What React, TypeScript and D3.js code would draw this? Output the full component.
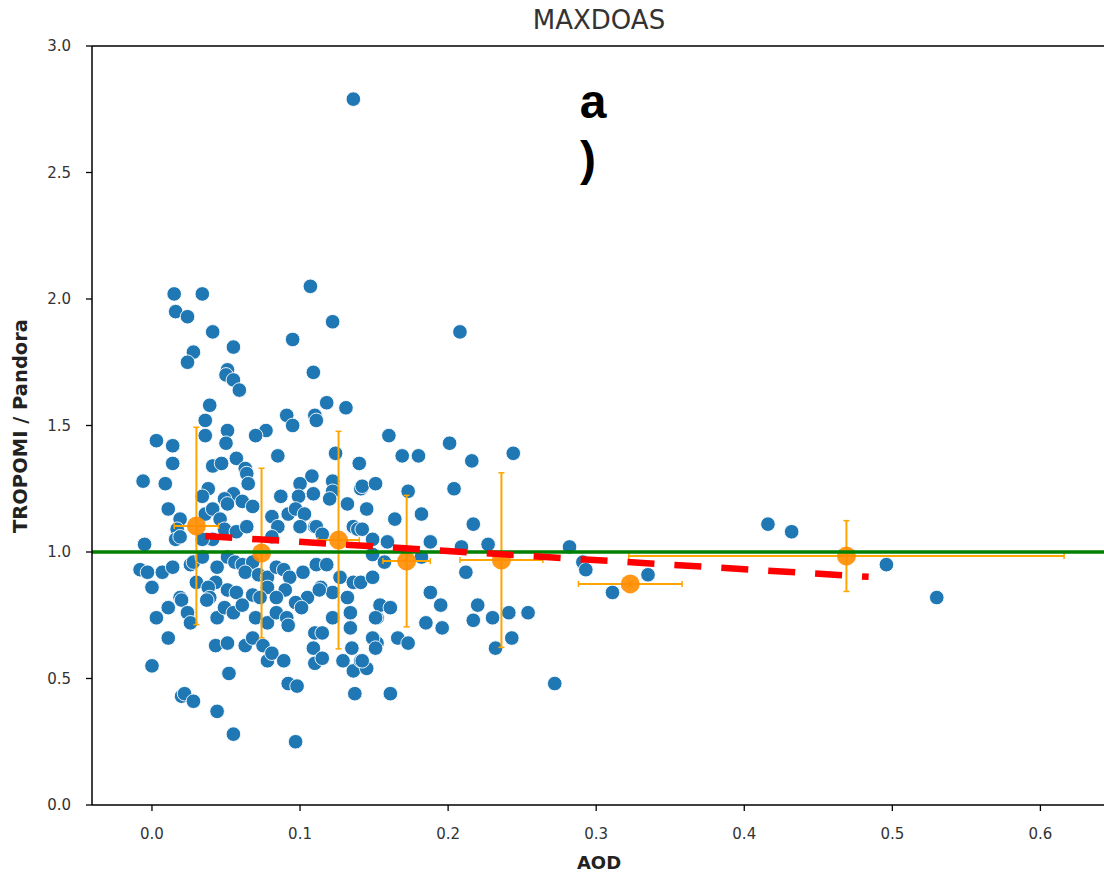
import React from "react";
import * as d3 from "d3";

// Scatter: [AOD, TROPOMI/Pandora]
const points: [number, number][] = [
  [0.136, 2.79],
  [0.015, 2.02], [0.034, 2.02], [0.107, 2.05], [0.016, 1.95], [0.024, 1.93], [0.122, 1.91], [0.041, 1.87], [0.095, 1.84],
  [0.055, 1.81], [0.028, 1.79], [0.024, 1.75], [0.051, 1.72], [0.05, 1.70], [0.055, 1.68], [0.059, 1.64], [0.109, 1.71],
  [0.208, 1.87], [0.039, 1.58], [0.036, 1.52], [0.118, 1.59], [0.131, 1.57], [0.091, 1.54], [0.095, 1.50], [0.11, 1.54],
  [0.111, 1.52], [0.077, 1.48], [0.051, 1.48],
  [0.003, 1.44], [0.014, 1.42], [0.014, 1.35], [0.036, 1.46], [0.05, 1.43], [0.07, 1.46], [0.085, 1.38], [0.124, 1.39],
  [0.14, 1.35], [-0.006, 1.28], [0.009, 1.27], [0.041, 1.34], [0.047, 1.35], [0.057, 1.37], [0.063, 1.33], [0.064, 1.31],
  [0.108, 1.30], [0.1, 1.27], [0.065, 1.27], [0.055, 1.23], [0.038, 1.25], [0.034, 1.22], [0.061, 1.20], [0.049, 1.21],
  [0.051, 1.19], [0.068, 1.18], [0.087, 1.22], [0.099, 1.22], [0.109, 1.23], [0.122, 1.28], [0.122, 1.24], [0.12, 1.21],
  [0.141, 1.25], [0.132, 1.19], [0.011, 1.17], [0.036, 1.15], [0.041, 1.17], [0.081, 1.14], [0.092, 1.15], [0.097, 1.17],
  [0.103, 1.15], [0.11, 1.10], [0.019, 1.13], [0.017, 1.09], [0.016, 1.05], [0.019, 1.06], [0.046, 1.13], [0.049, 1.09],
  [0.057, 1.08], [0.064, 1.10], [0.041, 1.05], [0.034, 1.05], [0.085, 1.10], [0.081, 1.06], [0.1, 1.10], [0.111, 1.10],
  [0.115, 1.07], [0.136, 1.10], [0.139, 1.09], [-0.005, 1.03], [-0.008, 0.93], [-0.003, 0.92], [0.007, 0.92], [0.0, 0.86],
  [0.014, 0.94], [0.026, 0.95], [0.028, 0.96], [0.034, 0.98], [0.044, 0.94], [0.051, 0.98], [0.056, 0.96], [0.061, 0.95],
  [0.068, 0.96], [0.063, 0.92], [0.072, 0.91], [0.078, 0.90], [0.084, 0.94], [0.089, 0.93], [0.093, 0.90], [0.102, 0.92],
  [0.111, 0.95], [0.118, 0.95], [0.127, 0.90], [0.136, 0.88], [0.141, 0.88], [0.149, 0.90], [0.03, 0.88], [0.043, 0.88],
  [0.051, 0.85], [0.038, 0.86], [0.078, 0.86], [0.09, 0.85], [0.114, 0.86], [0.122, 0.84], [0.019, 0.82], [0.039, 0.82],
  [0.057, 0.84], [0.068, 0.83], [0.073, 0.82], [0.084, 0.82], [0.105, 0.82], [0.132, 0.82],
  [0.011, 0.78], [0.003, 0.74], [0.02, 0.81], [0.024, 0.76], [0.026, 0.72], [0.037, 0.81], [0.044, 0.74], [0.049, 0.78],
  [0.055, 0.76], [0.061, 0.79], [0.07, 0.74], [0.078, 0.72], [0.084, 0.76], [0.091, 0.74], [0.092, 0.71], [0.097, 0.80],
  [0.101, 0.78], [0.113, 0.85], [0.122, 0.74], [0.134, 0.76], [0.134, 0.70], [0.11, 0.68], [0.115, 0.68], [0.109, 0.62],
  [0.11, 0.56], [0.115, 0.58], [0.129, 0.57], [0.135, 0.62], [0.136, 0.53], [0.141, 0.57], [0.145, 0.54], [0.137, 0.44],
  [0.152, 0.74], [0.152, 0.64], [0.011, 0.66], [0.0, 0.55], [0.043, 0.63], [0.051, 0.64], [0.063, 0.63], [0.068, 0.66],
  [0.075, 0.63], [0.078, 0.57], [0.081, 0.60], [0.089, 0.57], [0.052, 0.52], [0.092, 0.48], [0.098, 0.47], [0.02, 0.43],
  [0.022, 0.44], [0.028, 0.41], [0.044, 0.37], [0.055, 0.28], [0.097, 0.25],
  [0.16, 1.46], [0.169, 1.38], [0.18, 1.38], [0.201, 1.43], [0.216, 1.36], [0.244, 1.39], [0.142, 1.26], [0.151, 1.27],
  [0.173, 1.24], [0.204, 1.25], [0.145, 1.17], [0.164, 1.13], [0.182, 1.15], [0.217, 1.11], [0.142, 1.09], [0.149, 1.05],
  [0.159, 1.04], [0.188, 1.04], [0.209, 1.02], [0.227, 1.03], [0.282, 1.02], [0.291, 0.96], [0.293, 0.93], [0.149, 0.99],
  [0.157, 0.96], [0.182, 0.98], [0.212, 0.92], [0.335, 0.91], [0.311, 0.84], [0.188, 0.84], [0.195, 0.79], [0.154, 0.79],
  [0.161, 0.78], [0.151, 0.74], [0.22, 0.79], [0.23, 0.74], [0.241, 0.76], [0.254, 0.76], [0.185, 0.72], [0.196, 0.70],
  [0.217, 0.73], [0.149, 0.66], [0.151, 0.62], [0.166, 0.66], [0.173, 0.64], [0.243, 0.66], [0.232, 0.62], [0.142, 0.57],
  [0.161, 0.44], [0.272, 0.48],
  [0.416, 1.11], [0.432, 1.08], [0.496, 0.95], [0.530, 0.82],
];

// Binned means with error bars
const binX = [0.03, 0.074, 0.126, 0.172, 0.236, 0.323, 0.469];
const binY = [1.103, 0.996, 1.047, 0.964, 0.968, 0.874, 0.984];
const binXErr = [0.015, 0.004, 0.014, 0.016, 0.028, 0.035, 0.147];
const binYErr = [0.39, 0.335, 0.43, 0.26, 0.345, 0.01, 0.14];

// Linear fit (red dashed)
const fitX = [0.036, 0.484];
const fitIntercept = 1.076;
const fitSlope = -0.36;

const xTicks = [0.0, 0.1, 0.2, 0.3, 0.4, 0.5, 0.6];
const yTicks = [0.0, 0.5, 1.0, 1.5, 2.0, 2.5, 3.0];

export default function App() {
  const W = 1104, H = 875;
  const left = 92, right = 1110, top = 46, bottom = 805;
  const x = d3.scaleLinear().domain([-0.0405, 0.647]).range([left, right]);
  const y = d3.scaleLinear().domain([0, 3]).range([bottom, top]);
  const line = d3.line<number>().x((d) => x(d)).y((d) => y(fitIntercept + fitSlope * d));
  const font = "'DejaVu Sans', sans-serif";
  const cap = 3;
  const eb = "#ffa500";
  return (
    <svg width={W} height={H} style={{ position: "absolute", left: 0, top: 0, background: "#fff" }}>
      <defs>
        <clipPath id="plot">
          <rect x={left} y={top} width={right - left} height={bottom - top} />
        </clipPath>
      </defs>
      <g clipPath="url(#plot)">
        {points.map((p, i) => (
          <circle key={i} cx={x(p[0])} cy={y(p[1])} r={7.3} fill="#1f77b4" stroke="#fff" strokeWidth={0.9} />
        ))}
        {binX.map((bx, i) => {
          const cx = x(bx), cy = y(binY[i]);
          const x0 = x(bx - binXErr[i]), x1 = x(bx + binXErr[i]);
          const y0 = y(binY[i] - binYErr[i]), y1 = y(binY[i] + binYErr[i]);
          return (
            <g key={i}>
              <line x1={x0} x2={x1} y1={cy} y2={cy} stroke={eb} strokeWidth={2} />
              <line x1={cx} x2={cx} y1={y0} y2={y1} stroke={eb} strokeWidth={2} />
              <line x1={cx - cap} x2={cx + cap} y1={y0} y2={y0} stroke={eb} strokeWidth={1.5} />
              <line x1={cx - cap} x2={cx + cap} y1={y1} y2={y1} stroke={eb} strokeWidth={1.5} />
              <line x1={x0} x2={x0} y1={cy - cap} y2={cy + cap} stroke={eb} strokeWidth={1.5} />
              <line x1={x1} x2={x1} y1={cy - cap} y2={cy + cap} stroke={eb} strokeWidth={1.5} />
              <circle cx={cx} cy={cy} r={9.5} fill="#ff8c00" fillOpacity={0.9} />
            </g>
          );
        })}
        <line x1={left} x2={right} y1={y(1)} y2={y(1)} stroke="#008000" strokeWidth={3.5} />
        <path d={line(fitX) || ""} fill="none" stroke="#ff0000" strokeWidth={6.5} strokeDasharray="27,20" />
      </g>
      {/* spines */}
      <line x1={left} x2={left} y1={top} y2={bottom} stroke="#000" strokeWidth={1.5} />
      <line x1={left} x2={right} y1={bottom} y2={bottom} stroke="#000" strokeWidth={1.5} />
      <line x1={left} x2={right} y1={top} y2={top} stroke="#000" strokeWidth={1.5} />
      {/* y ticks */}
      {yTicks.map((t) => (
        <g key={"y" + t}>
          <line x1={left - 6} x2={left} y1={y(t)} y2={y(t)} stroke="#000" strokeWidth={1.3} />
          <text x={left - 21} y={y(t)} dy="0.35em" textAnchor="end" fontSize={15} fontFamily={font} fill="#333">
            {t.toFixed(1)}
          </text>
        </g>
      ))}
      {xTicks.map((t) => (
        <g key={"x" + t}>
          <line x1={x(t)} x2={x(t)} y1={bottom} y2={bottom + 6} stroke="#000" strokeWidth={1.3} />
          <text x={x(t)} y={839} textAnchor="middle" fontSize={15} fontFamily={font} fill="#333">
            {t.toFixed(1)}
          </text>
        </g>
      ))}
      <text x={599} y={29} textAnchor="middle" fontSize={26} fontFamily={font} fill="#333">MAXDOAS</text>
      <text x={599} y={869} textAnchor="middle" fontSize={18} fontWeight="bold" fontFamily={font} fill="#222">AOD</text>
      <text transform="translate(27,426) rotate(-90)" textAnchor="middle" fontSize={19.5} fontWeight="bold" fontFamily={font} fill="#222">
        TROPOMI / Pandora
      </text>
      <text x={593} y={118} textAnchor="middle" fontSize={48} fontWeight="bold" fontFamily="'Liberation Sans', Arial, sans-serif" fill="#000">a</text>
      <text x={588} y={175} textAnchor="middle" fontSize={48} fontWeight="bold" fontFamily="'Liberation Sans', Arial, sans-serif" fill="#000">)</text>
    </svg>
  );
}
